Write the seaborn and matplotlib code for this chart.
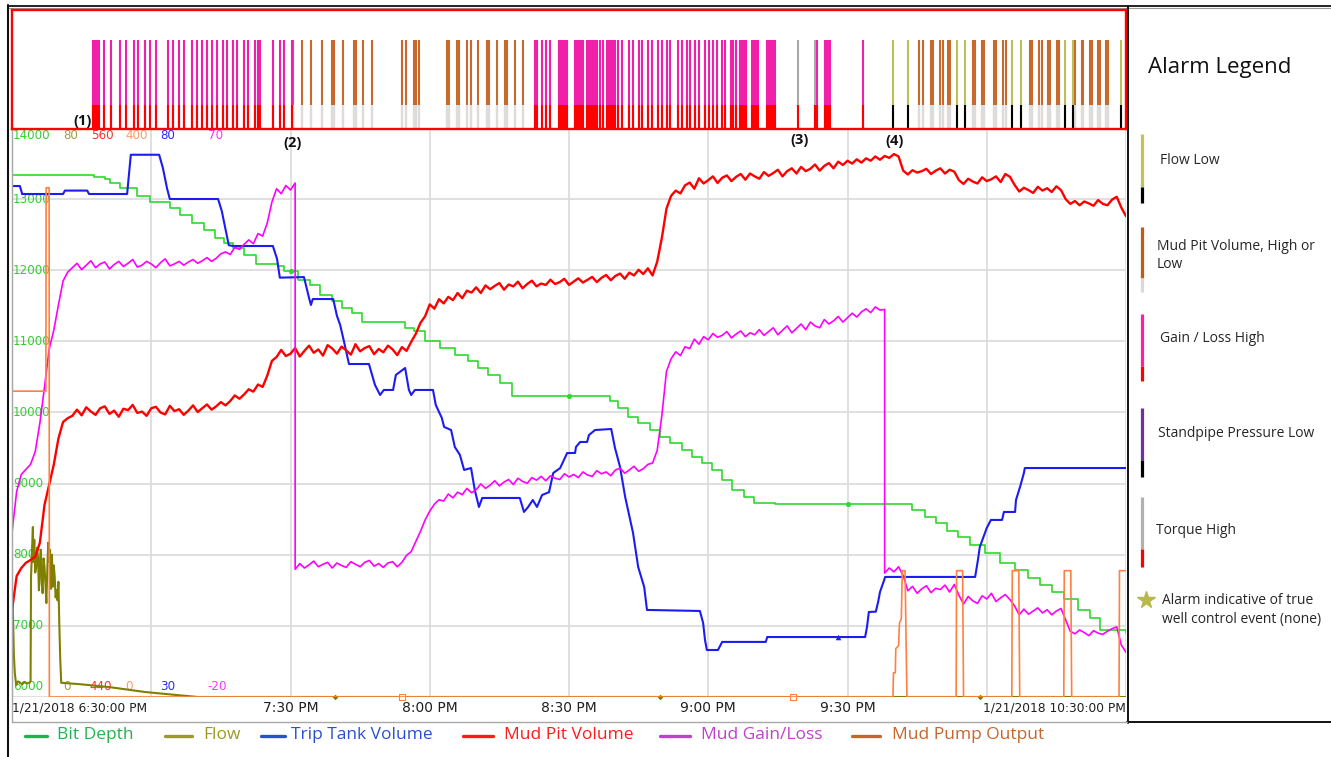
import numpy as np
import matplotlib
matplotlib.use("Agg")
import matplotlib.pyplot as plt
from matplotlib.lines import Line2D
from matplotlib.transforms import blended_transform_factory
import seaborn as sns

sns.set_style("white")
plt.rcParams["font.family"] = ["DejaVu Sans"]

# ---------------- data (time = minutes after 1/21/2018 6:30 PM) ----------------
bit_depth_t = [0, 17.7, 20.0, 21.1, 23.3, 26.9, 29.7, 34.0, 36.2, 38.8, 41.4, 43.7, 45.7, 47.6,
               50.0, 52.6, 57.3, 58.6, 61.6, 64.2, 66.4, 68.9, 71.1, 73.2, 75.4, 84.7, 86.6, 89.0,
               92.2, 95.4, 98.2, 100.4, 102.5, 105.1, 107.7, 128.8, 130.6, 132.7, 134.9, 137.5,
               139.6, 141.8, 144.3, 146.5, 148.7, 150.8, 153.0, 155.1, 157.7, 159.9, 164.4, 193.9,
               196.7, 199.1, 201.5, 203.8, 206.4, 209.6, 212.9, 216.1, 218.9, 221.5, 224.1, 226.6,
               229.6, 232.2, 234.4, 240]
bit_depth_ft = [13340, 13310, 13280, 13230, 13160, 13045, 12960, 12875, 12775, 12665, 12565, 12455,
                12385, 12310, 12215, 12085, 12060, 11990, 11860, 11790, 11650, 11565, 11470, 11400,
                11270, 11185, 11145, 11005, 10905, 10805, 10725, 10625, 10525, 10415, 10230, 10160,
                10060, 9935, 9850, 9755, 9655, 9570, 9470, 9375, 9290, 9190, 9050, 8910, 8810, 8725,
                8712, 8627, 8530, 8445, 8330, 8250, 8135, 8025, 7880, 7785, 7670, 7575, 7475, 7375,
                7220, 7110, 6940, 6900]

flow_t = [0, 0.2, 0.4, 0.6, 0.9, 1.3, 1.7, 2.2, 2.7, 3.2, 3.7, 4.0, 4.1, 4.3, 4.5, 4.6, 4.8, 5.0,
          5.2, 5.4, 5.6, 5.8, 6.0, 6.2, 6.4, 6.6, 6.8, 7.0, 7.2, 7.4, 7.6, 7.8, 8.0, 8.2, 8.4, 8.6,
          8.8, 9.0, 9.2, 9.4, 9.6, 9.8, 10.0, 10.2, 10.4, 10.6, 14.6, 20.9, 28.7, 35.1, 40.1, 240]
flow_val = [15.0, 11.8, 6.0, 3.4, 1.7, 2.2, 2.0, 1.8, 2.1, 1.9, 2.0, 2.2, 16.9, 20.5, 23.9, 19.0,
            22.1, 17.5, 18.3, 21.0, 19.7, 15.0, 18.5, 20.7, 16.0, 14.6, 19.5, 18.3, 16.0, 13.2,
            17.8, 21.7, 19.0, 20.7, 15.2, 20.0, 15.5, 18.5, 16.9, 14.0, 15.0, 13.6, 16.2, 10.0,
            5.2, 2.0, 1.8, 1.4, 0.7, 0.3, 0.0, 0.0]

trip_tank_t = [0, 1.7, 2.2, 11.0, 11.4, 16.2, 16.6, 24.8, 25.6, 31.7, 32.5, 33.4, 34.0, 44.4, 45.2,
               46.7, 47.6, 56.2, 57.1, 57.7, 62.9, 64.0, 64.4, 64.8, 69.2, 70.0, 70.7, 71.5, 72.6,
               76.9, 78.2, 79.3, 80.1, 82.1, 82.7, 84.7, 85.5, 86.0, 86.8, 90.7, 91.3, 92.6, 93.1,
               94.6, 95.4, 96.5, 97.4, 98.9, 99.7, 100.6, 101.3, 109.4, 110.3, 111.2, 112.2, 113.1,
               114.2, 115.7, 116.6, 118.1, 119.6, 121.3, 121.5, 122.4, 123.9, 124.3, 125.6, 129.1,
               129.9, 131.0, 132.1, 133.8, 134.9, 136.2, 136.8, 148.2, 148.9, 149.3, 149.7, 152.1,
               153.0, 162.4, 162.7, 183.8, 184.2, 184.6, 186.1, 186.6, 187.0, 187.9, 188.1, 207.5,
               208.1, 208.5, 210.0, 210.9, 213.3, 213.7, 216.1, 216.3, 217.2, 218.0, 218.2, 240]
trip_tank_val = [74.9, 74.9, 74.2, 74.2, 74.5, 74.5, 74.2, 74.2, 77.65, 77.65, 76.5, 74.7, 73.76,
                 73.76, 72.7, 69.7, 69.63, 69.63, 68.5, 66.85, 66.9, 65.06, 64.45, 64.97, 64.97,
                 63.5, 62.69, 61.28, 59.26, 59.26, 57.42, 56.54, 56.98, 56.98, 58.3, 58.91, 57.0,
                 56.54, 56.98, 56.98, 55.66, 54.52, 53.73, 53.46, 51.97, 51.27, 49.95, 50.12, 48.19,
                 46.7, 47.49, 47.49, 46.26, 46.7, 47.31, 46.7, 47.75, 48.0, 49.68, 50.12, 51.44,
                 51.44, 51.97, 52.41, 52.41, 53.02, 53.46, 53.55, 51.9, 50.21, 47.58, 44.41, 41.43,
                 39.67, 37.65, 37.56, 36.5, 35.01, 34.13, 34.13, 34.84, 34.84, 35.27, 35.27, 36.15,
                 37.47, 37.5, 38.35, 39.23, 40.28, 40.55, 40.55, 42.04, 43.18, 44.85, 45.56, 45.56,
                 46.26, 46.26, 47.31, 48.5, 49.68, 50.12, 50.12]

# mud pit volume, one sample per minute
mud_pit_t = list(range(0, 241))
mud_pit_val = [
    458.3, 465.5, 467.2, 468.3, 468.9, 469.6, 472.5, 480.5, 484.8, 489.0, 494.5, 498.0,
    498.8, 499.3, 500.6, 499.4, 501.1, 500.2, 499.5, 500.9, 501.3, 499.7,
    500.4, 499.1, 500.8, 500.5, 501.6, 499.9, 500.2, 499.3, 500.9, 501.2,
    500.0, 499.6, 501.4, 500.3, 500.7, 499.5, 500.4, 501.5, 500.1, 500.9,
    501.7, 500.6, 501.3, 502.2, 501.5, 502.4, 503.6, 502.9, 503.8, 504.9,
    504.4, 505.9, 505.4, 507.8, 510.9, 511.7, 513.2, 511.9, 512.4, 513.6,
    511.8, 513.0, 514.1, 512.6, 513.3, 512.0, 514.2, 513.5, 512.4, 513.9,
    513.1, 512.2, 514.4, 512.9, 513.6, 514.0, 512.3, 513.4, 512.7, 514.1,
    513.3, 512.1, 513.8, 513.0, 514.9, 516.6, 518.9, 520.3, 522.8, 521.9,
    523.9, 523.0, 524.4, 523.7, 525.2, 524.1, 525.7, 525.3, 526.4, 525.2,
    526.8, 526.0, 526.7, 527.3, 525.9, 527.0, 526.6, 527.6, 526.2, 527.1,
    527.8, 526.6, 527.2, 526.9, 528.0, 527.1, 527.5, 528.2, 526.9, 527.6,
    528.3, 527.4, 528.0, 528.6, 527.5, 528.4, 529.0, 527.9, 528.8, 529.3,
    528.2, 529.5, 528.9, 530.1, 529.2, 530.4, 528.9, 531.8, 536.8, 543.0,
    545.7, 546.8, 546.2, 547.9, 548.5, 547.2, 549.4, 548.3, 549.0, 549.8,
    548.4, 549.5, 550.0, 548.8, 549.7, 550.3, 549.1, 550.4, 549.8, 549.3,
    550.7, 549.9, 550.5, 551.2, 549.8, 550.9, 551.5, 550.4, 551.8, 550.9,
    551.4, 552.3, 551.0, 552.0, 552.6, 551.5, 552.9, 552.2, 553.1, 552.5,
    553.4, 552.7, 553.6, 553.1, 554.0, 553.3, 554.1, 553.7, 554.5, 554.0,
    551.0, 550.2, 551.1, 550.6, 550.9, 551.4, 550.3, 551.0, 551.5, 550.4,
    551.2, 550.8, 549.0, 548.2, 549.3, 548.7, 548.3, 549.6, 548.8, 549.2,
    549.8, 548.6, 550.3, 549.7, 548.0, 546.6, 547.4, 546.9, 546.3, 547.6,
    546.8, 547.3, 546.5, 547.7, 546.9, 545.0, 544.0, 544.6, 543.7, 544.5,
    544.1, 543.6, 544.8, 544.0, 543.7, 544.9, 545.5, 543.2, 541.4]

# mud gain/loss, one sample per minute; the repeated minutes carry the resets
gain_loss_t = list(range(0, 62)) + list(range(61, 189)) + list(range(188, 241))
gain_loss_val = [
    6.0, 12.5, 15.2, 16.0, 16.8, 18.8, 23.3, 29.0, 35.0, 38.0, 42.0, 45.8,
    47.2, 47.9, 48.6, 47.6, 48.3, 49.0, 47.9, 48.5, 48.8, 47.7,
    48.4, 48.9, 48.1, 48.6, 49.2, 48.0, 48.3, 48.9, 48.5, 47.9,
    48.7, 49.3, 48.2, 48.5, 48.9, 48.3, 48.8, 49.2, 48.6, 49.0,
    49.5, 48.9, 49.4, 50.1, 50.4, 50.0, 51.1, 50.8, 51.6, 52.3,
    51.7, 53.3, 52.9, 55.0, 58.3, 60.4, 59.6, 60.9, 60.2, 61.3,
    0.2, 1.1, 0.4, 0.9, 1.5, 0.6, 1.0, 1.3, 0.4, 1.2,
    0.8, 0.5, 1.4, 1.0, 0.6, 1.3, 1.6, 0.7, 1.1, 0.5,
    1.2, 1.4, 0.6, 1.3, 2.4, 3.0, 4.6, 6.2, 8.0, 9.4,
    10.5, 11.2, 11.0, 12.1, 11.5, 12.4, 12.0, 13.0, 12.3, 12.8,
    13.7, 13.0, 13.5, 14.2, 13.4, 14.0, 14.4, 13.6, 14.6, 14.1,
    13.8, 14.7, 14.3, 14.9, 14.2, 15.0, 14.6, 14.4, 15.3, 14.8,
    15.2, 14.7, 15.6, 15.1, 14.9, 15.8, 15.3, 15.6, 15.0, 15.9,
    16.2, 15.4, 15.9, 16.5, 15.7, 16.1, 16.8, 17.0, 19.0, 24.5,
    31.5, 33.5, 34.6, 34.0, 35.4, 35.1, 36.6, 35.8, 37.0, 36.5,
    37.5, 36.9, 37.2, 37.8, 36.8, 37.4, 37.9, 37.0, 37.6, 37.3,
    38.1, 37.2, 37.8, 38.4, 37.3, 38.0, 38.7, 37.6, 38.3, 39.0,
    38.1, 39.3, 38.7, 38.4, 39.7, 39.0, 39.5, 40.2, 39.3, 40.0,
    40.7, 40.1, 40.9, 41.4, 40.8, 41.7, 41.2, 41.3,
    -0.4, 0.4, -0.2, 0.6, -0.8, -3.2, -2.5, -3.6, -2.9, -2.4,
    -3.5, -2.8, -3.0, -2.3, -3.4, -2.2, -3.9, -5.3, -4.1, -4.8,
    -5.2, -4.0, -4.5, -3.6, -4.9, -4.3, -3.8, -4.6, -5.6, -7.0,
    -6.1, -6.9, -6.4, -5.9, -6.7, -6.2, -7.0, -6.4, -6.0, -7.8,
    -9.6, -10.0, -9.4, -9.8, -10.3, -9.5, -9.9, -10.1, -9.6, -9.2,
    -8.9, -11.8, -12.9]

pump_t = [0, 7.3, 7.35, 8.0, 8.05, 189.8, 189.9, 190.3, 190.4, 191.0, 191.2, 191.6, 191.8, 192.4,
          192.8, 203.4, 203.5, 204.8, 205.0, 215.4, 215.5, 216.9, 217.1, 226.6, 226.7, 228.1,
          228.3, 238.5, 238.6, 240]
pump_val = [215, 215, 358, 358, 0, 0, 17, 17, 34, 36, 52, 55, 88.8, 88.8, 0, 0, 88.8, 88.8, 0, 0,
            88.8, 88.8, 0, 0, 88.8, 88.8, 0, 0, 88.8, 88.8]

# point markers carried on the traces
bit_depth_mark_t, bit_depth_mark_v = [60, 120, 180], [11990, 10230, 8712]
trip_tank_mark_t, trip_tank_mark_v = [177.9], [35.27]
flow_mark_t, flow_mark_v = [69.6, 139.6, 208.5], [0, 0, 0]
pump_mark_t, pump_mark_v = [84.0, 168.2], [0, 0]

# alarm activations (minutes)
gain_loss_alarms = [17.4, 17.9, 18.3, 18.7, 19.8, 21.3, 23.3, 24.6, 26.3, 27.1, 28.7, 29.7, 31.0,
                    33.6, 34.7, 36.0, 37.1, 38.8, 39.9, 40.9, 42.0, 43.1, 44.2, 45.5, 46.3, 47.6,
                    48.5, 50.0, 50.8, 52.3, 53.0, 53.4, 56.2, 57.7, 58.6, 60.3, 112.7, 113.1,
                    114.2, 115.0, 115.9, 117.8, 118.3, 118.7, 119.1, 119.6, 121.3, 121.7, 122.1,
                    122.6, 123.0, 123.9, 124.3, 124.7, 125.2, 125.6, 126.0, 126.7, 127.3, 128.2,
                    128.6, 129.0, 129.5, 129.9, 130.5, 131.4, 132.9, 133.8, 135.1, 135.7, 137.0,
                    137.9, 139.2, 140.0, 141.1, 141.7, 143.5, 144.3, 145.4, 146.0, 147.1, 148.0,
                    149.3, 150.1, 151.0, 151.9, 152.9, 153.6, 154.9, 155.3, 156.0, 156.8, 157.2,
                    157.7, 158.1, 159.4, 159.8, 160.3, 160.7, 162.6, 163.1, 163.5, 163.9, 164.4,
                    173.4, 175.1, 175.6, 176.0, 176.2, 183.3]
mud_pit_alarms = [60.5, 62.5, 64.4, 66.8, 68.9, 69.4, 71.3, 73.7, 74.1, 75.6, 77.5, 84.0, 84.9,
                  86.6, 87.0, 87.7, 93.7, 94.1, 95.9, 96.3, 98.0, 98.9, 100.4, 102.3, 102.8,
                  104.5, 106.2, 106.6, 108.4, 110.1, 195.4, 196.2, 198.0, 198.4, 199.9, 200.5,
                  201.6, 202.0, 207.0, 207.4, 208.9, 209.4, 211.5, 212.0, 213.5, 214.1, 219.3,
                  219.7, 221.2, 221.9, 223.2, 223.6, 225.1, 225.5, 229.0, 230.5, 230.7, 232.2,
                  232.6, 233.9, 234.4, 235.7, 236.1]
flow_low_alarms = [189.8, 193.0, 203.6, 205.3, 215.4, 217.3, 226.8, 228.5, 238.9]
torque_alarms = [169.3, 172.9]
standpipe_alarms = []

tick_minutes = [0, 30, 60, 90, 120, 150, 180, 210, 240]
tick_labels = ["1/21/2018 6:30:00 PM", "", "7:30 PM", "8:00 PM", "8:30 PM", "9:00 PM",
               "9:30 PM", "", "1/21/2018 10:30:00 PM"]
depth_ticks = [6000, 7000, 8000, 9000, 10000, 11000, 12000, 13000, 14000]

# ---------------- figure ----------------
W, H = 1331, 757
fig = plt.figure(figsize=(W / 100, H / 100), dpi=100, facecolor="white")


def box(x0, y0, x1, y1):
    return [x0 / W, 1 - y1 / H, (x1 - x0) / W, (y1 - y0) / H]


def fline(xs, ys, **kw):
    fig.add_artist(Line2D([x / W for x in xs], [1 - y / H for y in ys],
                          transform=fig.transFigure, **kw))


ax = fig.add_axes(box(12, 128, 1126, 697))
ax.set_facecolor("white")
ax.set_xticks(tick_minutes)
ax.set_xticklabels(tick_labels, color="#202020")
ax.set_yticks(depth_ticks)
ax.set_yticklabels([])
ax.grid(True, color="#dadada", lw=1.2)
ax.tick_params(length=0, pad=3)
for s in ax.spines.values():
    s.set_visible(False)
ax.spines["left"].set_visible(True)
ax.spines["left"].set_color("#a8a8a8")
labs = ax.get_xticklabels()
for lab in labs:
    lab.set_fontsize(10)
labs[0].set_ha("left"); labs[0].set_fontsize(8.8)
labs[-1].set_ha("right"); labs[-1].set_fontsize(8.8)


def twin(lo, hi):
    a = ax.twinx()
    a.set_yticks([])
    for s in a.spines.values():
        s.set_visible(False)
    a.set_ylim(lo, hi)
    return a


ax_flow = twin(0, 80)
ax_trip = twin(30, 80)
ax_pit = twin(440, 560)
ax_gain = twin(-20, 70)
ax_pump = twin(0, 400)

line_kw = dict(estimator=None, sort=False, errorbar=None, legend=False)
sns.lineplot(x=bit_depth_t, y=bit_depth_ft, ax=ax, color="#2fd82f", linewidth=1.2,
             drawstyle="steps-post", **line_kw)
sns.lineplot(x=flow_t, y=flow_val, ax=ax_flow, color="#808000", linewidth=1.5, **line_kw)
sns.lineplot(x=trip_tank_t, y=trip_tank_val, ax=ax_trip, color="#1c1cf0", linewidth=1.5, **line_kw)
sns.lineplot(x=mud_pit_t, y=mud_pit_val, ax=ax_pit, color="#ff0000", linewidth=1.7, **line_kw)
sns.lineplot(x=gain_loss_t, y=gain_loss_val, ax=ax_gain, color="#ff00ff", linewidth=1.2, **line_kw)
sns.lineplot(x=pump_t, y=pump_val, ax=ax_pump, color="#ff8040", linewidth=1.2, **line_kw)

sns.scatterplot(x=bit_depth_mark_t, y=bit_depth_mark_v, ax=ax, color="#2fd82f", s=14,
                linewidth=0, legend=False, zorder=3)
sns.scatterplot(x=trip_tank_mark_t, y=trip_tank_mark_v, ax=ax_trip, color="#1c1cf0", marker="^",
                s=16, linewidth=0, legend=False)
sns.scatterplot(x=flow_mark_t, y=flow_mark_v, ax=ax_flow, color="#808000", marker="D", s=8,
                linewidth=0, legend=False, clip_on=False)
sns.scatterplot(x=pump_mark_t, y=pump_mark_v, ax=ax_pump, color="white", edgecolor="#ff8040",
                marker="s", s=16, linewidth=0.8, legend=False, clip_on=False)

for a, (lo, hi) in [(ax, (6000, 14000)), (ax_flow, (0, 80)), (ax_trip, (30, 80)),
                    (ax_pit, (440, 560)), (ax_gain, (-20, 70)), (ax_pump, (0, 400))]:
    a.set_ylim(lo, hi)
    a.set_xlabel("")
    a.set_ylabel("")
ax.set_xlim(0, 240)

# scale labels inside the plot
ytr = blended_transform_factory(ax.transAxes, ax.transData)
for v in depth_ticks[1:-1]:
    ax.text(0.001, v, str(v), transform=ytr, ha="left", va="center", color="#33cc33",
            fontsize=8.6, zorder=5)
top_row = [("14000", 0.0, "#33cc33", "left"), ("80", 0.0521, "#a49c3c", "center"),
           ("560", 0.0799, "#ff3030", "center"), ("400", 0.1113, "#ff9966", "center"),
           ("80", 0.1391, "#2a2aff", "center"), ("70", 0.1813, "#ff33ff", "center")]
bottom_row = [("6000", 0.0, "#33cc33", "left"), ("0", 0.0485, "#a49c3c", "center"),
              ("440", 0.0790, "#ff3030", "center"), ("0", 0.1041, "#ff9966", "center"),
              ("30", 0.1391, "#2a2aff", "center"), ("-20", 0.1831, "#ff33ff", "center")]
for txt, xf, col, ha in top_row:
    ax.text(xf + 0.001, 0.986, txt, transform=ax.transAxes, ha=ha, va="center", color=col,
            fontsize=8.6, zorder=5)
for txt, xf, col, ha in bottom_row:
    ax.text(xf + 0.001, 0.0176, txt, transform=ax.transAxes, ha=ha, va="center", color=col,
            fontsize=8.6, zorder=5)

# ---------------- alarm strip ----------------
ax_al = fig.add_axes(box(12, 10, 1126, 129), zorder=5)
ax_al.set_facecolor("white")
ax_al.set_xticks([]); ax_al.set_yticks([])
for s in ax_al.spines.values():
    s.set_color("#ff0000"); s.set_linewidth(1.7)
alarm_kinds = [
    (mud_pit_alarms, "#c8682a", "#dcdcdc"),
    (gain_loss_alarms, "#f020a8", "#ff0000"),
    (torque_alarms, "#a8a8a8", "#ff0000"),
    (standpipe_alarms, "#7030a0", "#000000"),
    (flow_low_alarms, "#bcc05a", "#000000"),
]
for times, top_col, low_col in alarm_kinds:
    if not times:
        continue
    sns.rugplot(x=times, height=0.748, color=top_col, linewidth=1.5, expand_margins=False,
                ax=ax_al)
    sns.rugplot(x=times, height=0.2017, color=low_col, linewidth=1.5, expand_margins=False,
                ax=ax_al)
ax_al.set_xlim(0, 240); ax_al.set_ylim(0, 1)
ax_al.set_xlabel(""); ax_al.set_ylabel("")
fig.text(560.5 / W, 1 - 23 / H, "Alarms", ha="center", va="center", color="#ff0000",
         fontsize=15, family="Open Sans")

# event markers
for txt, x, y in [("(1)", 83, 121), ("(2)", 293, 143), ("(3)", 800, 140), ("(4)", 895, 141)]:
    fig.text(x / W, 1 - y / H, txt, ha="center", va="center", fontsize=10.5,
             fontweight="bold", family="Open Sans", color="#111111", zorder=6)

# ---------------- frames ----------------
fline([8, 1331], [5.5, 5.5], color="#111111", lw=1.3)
fline([8, 1331], [7.8, 7.8], color="#9a9a9a", lw=0.8)
fline([8, 8], [5, 757], color="#111111", lw=1.5)
fline([1127.5, 1127.5], [6, 722.5], color="#111111", lw=1.4)
fline([1127, 1331], [722, 722], color="#111111", lw=1.4)
fline([12.5, 12.5], [128, 722], color="#a8a8a8", lw=1.0)
fline([12, 1127], [722, 722], color="#a8a8a8", lw=1.0)

# ---------------- series legend ----------------
legend_items = [("Bit Depth", "#22b24c", 25, 47, 57), ("Flow", "#9c9a22", 165, 192, 203),
                ("Trip Tank Volume", "#2a50d0", 261, 285, 291),
                ("Mud Pit Volume", "#ff1a1a", 463, 493, 504),
                ("Mud Gain/Loss", "#c040cc", 660, 690, 701),
                ("Mud Pump Output", "#c8652b", 852, 880, 892)]
for name, col, x0, x1, xt in legend_items:
    fline([x0, x1], [736, 736], color=col, lw=2.4)
    fig.text(xt / W, 1 - 735 / H, name, ha="left", va="center", color=col, fontsize=12.5,
             family="Open Sans")

# ---------------- alarm legend panel ----------------
fig.text(1148 / W, 1 - 68 / H, "Alarm Legend", ha="left", va="center", fontsize=16,
         family="Open Sans", color="#111111")
panel_keys = [(134, 187, 203, "#bfc45a", "#000000"), (227, 278, 292, "#c55a11", "#d9d9d9"),
              (314, 366, 381, "#ff1fa6", "#ff0000"), (408, 460, 477, "#7030a0", "#000000"),
              (497, 549, 567, "#b0b0b0", "#ff0000")]
for y0, y1, y2, c_top, c_low in panel_keys:
    fline([1141.7, 1141.7], [y0, y1], color=c_top, lw=2.3, solid_capstyle="butt")
    fline([1141.7, 1141.7], [y1, y2], color=c_low, lw=2.3, solid_capstyle="butt")
panel_texts = [("Flow Low", 1160, 161), ("Mud Pit Volume, High or", 1157, 246), ("Low", 1157, 265),
               ("Gain / Loss High", 1160, 339), ("Standpipe Pressure Low", 1158, 434),
               ("Torque High", 1156, 530), ("Alarm indicative of true", 1162, 600),
               ("well control event (none)", 1162, 620)]
for txt, x, y in panel_texts:
    fig.text(x / W, 1 - y / H, txt, ha="left", va="center", fontsize=10, family="Open Sans",
             color="#262626")
fig.add_artist(Line2D([1146 / W], [1 - 600 / H], marker="*", markersize=13, color="#b9b84c",
                      transform=fig.transFigure))

fig.savefig("out.png", dpi=100, facecolor="white")
